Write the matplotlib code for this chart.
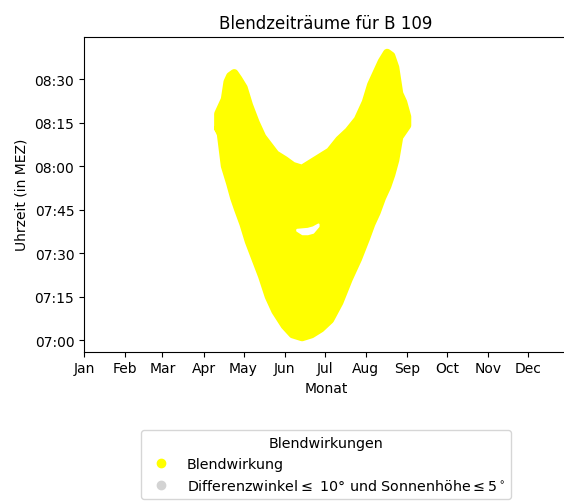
import datetime as dt
import numpy as np
import matplotlib
matplotlib.use('Agg')
import matplotlib.pyplot as plt
import matplotlib.dates as mdates

# Tage mit Blendwirkung (2021) und frühester / spätester Zeitpunkt (MEZ)
tage = ['04-12', '04-14', '04-17', '04-19', '04-21', '04-24', '04-27', '05-01',
        '05-05', '05-10', '05-15', '05-20', '05-25', '06-01', '06-07', '06-14',
        '06-21', '06-28', '07-05', '07-12', '07-19', '07-26', '08-01', '08-05',
        '08-09', '08-13', '08-17', '08-20', '08-23', '08-26', '08-29', '09-01']
beginn = ['08:13', '08:11', '08:00', '07:57', '07:54', '07:49', '07:45', '07:40',
          '07:34', '07:28', '07:22', '07:15', '07:10', '07:05', '07:02', '07:01',
          '07:02', '07:04', '07:07', '07:13', '07:21', '07:28', '07:35', '07:40',
          '07:44', '07:49', '07:53', '07:57', '08:02', '08:10', '08:12', '08:14']
ende = ['08:18', '08:20', '08:23', '08:29', '08:31', '08:32', '08:30', '08:27',
        '08:21', '08:15', '08:10', '08:07', '08:04', '08:02', '08:00', '07:59',
        '08:01', '08:03', '08:05', '08:09', '08:12', '08:16', '08:22', '08:28',
        '08:32', '08:36', '08:39', '08:38', '08:34', '08:25', '08:22', '08:17']

# kleine Lücke ohne Blendung im Juni
luecke_tage = ['06-10', '06-14', '06-18', '06-22', '06-26']
luecke_von = ['07:37:50', '07:36:40', '07:36:40', '07:37:10', '07:39:20']
luecke_bis = ['07:38:10', '07:38:20', '07:38:30', '07:39:00', '07:40:00']

monate = ['Jan', 'Feb', 'Mar', 'Apr', 'May', 'Jun', 'Jul', 'Aug', 'Sep', 'Oct', 'Nov', 'Dec']


def datum(s):
    return mdates.date2num(dt.datetime.strptime('2021-' + s, '%Y-%m-%d'))


def zeit(s):
    fmt = '%H:%M:%S' if s.count(':') == 2 else '%H:%M'
    t = dt.datetime.strptime(s, fmt)
    return mdates.date2num(dt.datetime(1900, 1, 1, t.hour, t.minute, t.second))


x = np.array([datum(d) for d in tage])
y0 = np.array([zeit(t) for t in beginn])
y1 = np.array([zeit(t) for t in ende])
lx = np.array([datum(d) for d in luecke_tage])
ly0 = np.array([zeit(t) for t in luecke_von])
ly1 = np.array([zeit(t) for t in luecke_bis])

fig = plt.figure(figsize=(5.64, 5.02), dpi=100)
ax = fig.add_axes([84 / 564, (502 - 352.7) / 502, (568 - 84) / 564, 315 / 502])

# Fläche + Rand (Rand mit runden Ecken wie die Punktwolke)
ax.fill_between(x, y0, y1, facecolor='yellow', edgecolor='yellow', lw=1)
rand_x = np.concatenate([x, x[::-1], x[:1]])
rand_y = np.concatenate([y0, y1[::-1], y0[:1]])
ax.plot(rand_x, rand_y, color='yellow', lw=6,
        solid_joinstyle='round', solid_capstyle='round')
ax.fill_between(lx, ly0, ly1, facecolor='white', edgecolor='white', lw=1.5)

# Legende
ax.plot([], [], 'o', color='yellow', ms=6, label='Blendwirkung')
ax.plot([], [], 'o', color='lightgray', ms=6,
        label='Differenzwinkel$\\leq$ 10° und Sonnenhöhe$\\leq 5^\\circ$')

ax.set_xlim(datum('01-01'), datum('12-31'))
ax.set_ylim(zeit('06:55:58'), zeit('08:44:36'))
ax.xaxis.set_major_locator(mdates.MonthLocator())
ax.xaxis.set_major_formatter(plt.FixedFormatter(monate))
ax.yaxis.set_major_locator(mdates.MinuteLocator(byminute=[0, 15, 30, 45]))
ax.yaxis.set_major_formatter(mdates.DateFormatter('%H:%M'))

ax.set_title('Blendzeiträume für B 109')
ax.set_xlabel('Monat')
ax.set_ylabel('Uhrzeit (in MEZ)')
ax.legend(title='Blendwirkungen', loc='upper center', bbox_to_anchor=(0.5, -0.226),
          fontsize=10.3, title_fontsize=10.3)

fig.savefig('out.png', dpi=100)
